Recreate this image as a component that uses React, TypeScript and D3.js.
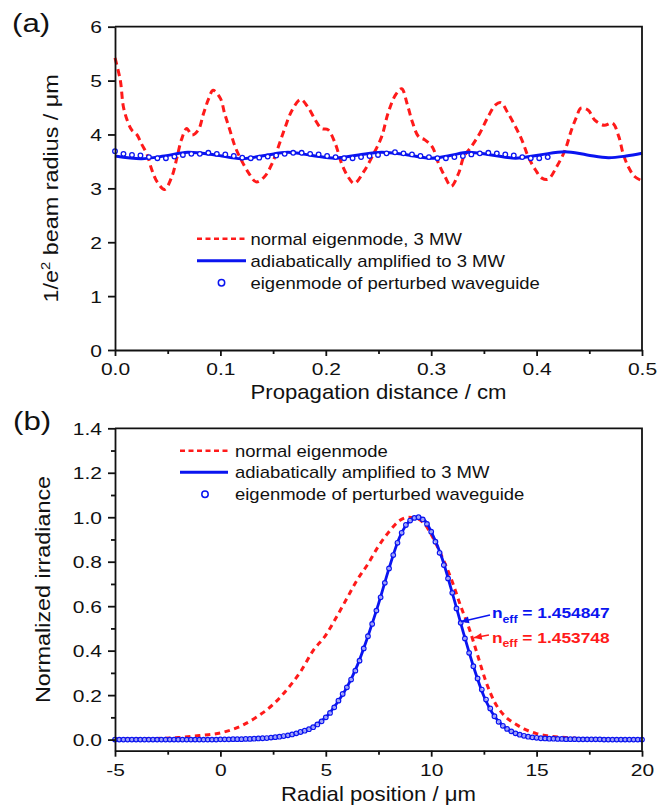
import React, { useEffect, useRef } from 'react'
import * as d3 from 'd3'

// (a) 1/e^2 beam radius vs propagation distance
const distNormal = [0, 0.005, 0.008, 0.012, 0.016, 0.021, 0.025, 0.03, 0.035, 0.04, 0.047, 0.054, 0.059, 0.063, 0.068, 0.073, 0.079, 0.084, 0.089, 0.093, 0.1, 0.104, 0.109, 0.114, 0.12, 0.127, 0.134, 0.142, 0.149, 0.155, 0.161, 0.168, 0.176, 0.183, 0.19, 0.196, 0.202, 0.209, 0.215, 0.221, 0.227, 0.236, 0.244, 0.253, 0.259, 0.266, 0.272, 0.277, 0.282, 0.288, 0.294, 0.301, 0.307, 0.313, 0.319, 0.326, 0.331, 0.338, 0.346, 0.354, 0.361, 0.366, 0.373, 0.38, 0.386, 0.392, 0.399, 0.405, 0.411, 0.419, 0.427, 0.433, 0.438, 0.442, 0.449, 0.455, 0.464, 0.472, 0.478, 0.482, 0.487, 0.493, 0.5]
const radiusNormal = [5.42, 5.01, 4.51, 4.24, 4.08, 3.99, 3.83, 3.65, 3.34, 3.12, 2.98, 3.22, 3.59, 3.9, 4.11, 3.99, 4.08, 4.39, 4.67, 4.82, 4.67, 4.39, 4.08, 3.77, 3.52, 3.28, 3.12, 3.22, 3.46, 3.77, 4.11, 4.45, 4.65, 4.51, 4.27, 4.11, 4.09, 3.83, 3.46, 3.22, 3.09, 3.31, 3.59, 3.96, 4.39, 4.73, 4.85, 4.58, 4.24, 3.96, 3.9, 3.77, 3.46, 3.22, 3.04, 3.28, 3.59, 3.77, 4.02, 4.33, 4.55, 4.59, 4.39, 4.14, 3.9, 3.59, 3.34, 3.19, 3.17, 3.4, 3.71, 4.08, 4.33, 4.49, 4.45, 4.27, 4.17, 4.21, 3.96, 3.65, 3.4, 3.22, 3.14]
const distAdiabatic = [0, 0.025, 0.047, 0.069, 0.095, 0.12, 0.142, 0.164, 0.187, 0.209, 0.231, 0.253, 0.278, 0.3, 0.318, 0.335, 0.357, 0.38, 0.403, 0.427, 0.448, 0.468, 0.485, 0.5]
const radiusAdiabatic = [3.6, 3.55, 3.6, 3.67, 3.62, 3.55, 3.61, 3.67, 3.61, 3.56, 3.62, 3.67, 3.62, 3.56, 3.61, 3.67, 3.62, 3.56, 3.62, 3.68, 3.62, 3.57, 3.6, 3.65]
// perturbed-waveguide eigenmode, sampled every eigenStepA cm from 0
const eigenStepA = 0.00805
const radiusEigen = [3.69, 3.64, 3.62, 3.61, 3.58, 3.56, 3.56, 3.59, 3.62, 3.64, 3.64, 3.66, 3.64, 3.63, 3.6, 3.57, 3.56, 3.57, 3.59, 3.61, 3.64, 3.66, 3.66, 3.64, 3.63, 3.6, 3.58, 3.56, 3.56, 3.58, 3.6, 3.62, 3.65, 3.67, 3.65, 3.63, 3.6, 3.58, 3.56, 3.56, 3.58, 3.6, 3.63, 3.65, 3.66, 3.65, 3.63, 3.61, 3.58, 3.56, 3.56, 3.58]

// (b) normalized irradiance vs radial position
const radialNormal = [-5, -3, -2, -1, 0, 1, 1.7, 2.5, 3.2, 3.8, 4.4, 5, 5.5, 6, 6.5, 7, 7.5, 8, 8.5, 8.9, 9.3, 9.7, 10.1, 10.5, 11, 11.4, 11.8, 12.2, 12.6, 13, 13.5, 14, 14.4, 15, 15.5, 16, 16.5, 17, 18, 20]
const irrNormal = [0.002, 0.005, 0.009, 0.018, 0.03, 0.062, 0.1, 0.158, 0.23, 0.305, 0.4, 0.47, 0.55, 0.635, 0.72, 0.79, 0.87, 0.935, 0.985, 1.0, 0.995, 0.968, 0.905, 0.825, 0.71, 0.6, 0.5, 0.38, 0.26, 0.17, 0.105, 0.07, 0.048, 0.027, 0.017, 0.012, 0.008, 0.005, 0.002, 0]
const radialAdiabatic = [-5, -2, 0, 1, 2, 3, 3.5, 4, 4.5, 5, 5.5, 6, 6.5, 7, 7.5, 8, 8.5, 9, 9.35, 9.7, 10, 10.5, 11, 11.5, 12, 12.5, 13, 13.5, 14, 14.5, 15, 16, 17, 20]
const irrAdiabatic = [0, 0, 0.001, 0.002, 0.006, 0.016, 0.025, 0.04, 0.063, 0.1, 0.16, 0.235, 0.335, 0.465, 0.61, 0.77, 0.91, 0.985, 1.0, 0.985, 0.935, 0.82, 0.66, 0.49, 0.33, 0.195, 0.105, 0.055, 0.028, 0.015, 0.008, 0.003, 0.001, 0]
// perturbed-waveguide eigenmode, sampled every eigenStepB um from -5
const eigenStepB = 0.2
const irrEigen = [
  0, 0, 0, 0, 0, 0, 0, 0, 0, 0, 0, 0, 0, 0, 0, 0, 0, 0, 0, 0, 0, 0, 0, 0, 0,
  0.001, 0.001, 0.001, 0.002, 0.002, 0.002, 0.003, 0.003, 0.004, 0.005, 0.006, 0.007, 0.009, 0.011, 0.013,
  0.016, 0.019, 0.023, 0.028, 0.034, 0.04, 0.047, 0.056, 0.068, 0.082, 0.1, 0.12, 0.145, 0.175, 0.205,
  0.235, 0.27, 0.31, 0.355, 0.41, 0.465, 0.52, 0.58, 0.64, 0.705, 0.77, 0.83, 0.885, 0.93, 0.965,
  0.985, 0.997, 1.0, 0.99, 0.97, 0.935, 0.89, 0.84, 0.785, 0.725, 0.66, 0.59, 0.525, 0.455, 0.39,
  0.33, 0.275, 0.225, 0.18, 0.14, 0.105, 0.08, 0.062, 0.048, 0.037, 0.028, 0.022, 0.017, 0.013, 0.01,
  0.008, 0.006, 0.005, 0.004, 0.004, 0.003, 0.003, 0.002, 0.002, 0.002, 0.001,
  0.001, 0.001, 0.001, 0.001, 0.001, 0, 0, 0, 0, 0, 0, 0, 0, 0, 0
]

const xTicksA = [0, 0.1, 0.2, 0.3, 0.4, 0.5]
const xMinorA = [0.05, 0.15, 0.25, 0.35, 0.45]
const yTicksA = [0, 1, 2, 3, 4, 5, 6]
const xTicksB = [-5, 0, 5, 10, 15, 20]
const xMinorB = [-2.5, 2.5, 7.5, 12.5, 17.5]
const yTicksB = [0, 0.2, 0.4, 0.6, 0.8, 1.0, 1.2, 1.4]
const yMinorB = [0.1, 0.3, 0.5, 0.7, 0.9, 1.1, 1.3]

const legendA = ['normal eigenmode, 3 MW', 'adiabatically amplified to 3 MW', 'eigenmode of perturbed waveguide']
const legendB = ['normal eigenmode', 'adiabatically amplified to 3 MW', 'eigenmode of perturbed waveguide']

const RED = '#ff1a1a'
const BLUE = '#0a14f0'
const FONT = 'Liberation Sans, Arial, sans-serif'

const App = () => {
  const svgRef = useRef(null)

  useEffect(() => {
    const svg = d3.select(svgRef.current)
    svg.selectAll('*').remove()
    svg.attr('width', 667).attr('height', 808)
      .style('position', 'absolute').style('left', 0).style('top', 0)
      .style('background', '#fff')
      .style('font-family', FONT)

    const left = 115, right = 642

    const txt = (g, x, y, s, size, sx, anchor = 'start') => g.append('text')
      .attr('transform', `translate(${x},${y}) scale(${sx},1)`)
      .attr('text-anchor', anchor)
      .attr('font-size', size)
      .attr('fill', '#111')
      .text(s)

    const drawAxes = (g, x, y, xt, xm, yt, ym, fx, fy, top, bottom) => {
      const xa = g.append('g').attr('transform', `translate(0,${bottom})`)
        .call(d3.axisBottom(x).tickValues(xt).tickSize(6).tickSizeOuter(0).tickFormat(fx))
      xa.selectAll('text').attr('y', 25).attr('dy', 0).attr('font-size', 16.8)
        .attr('font-family', FONT).attr('fill', '#111').attr('transform', 'scale(1.25,1)')
      if (xm.length) {
        g.append('g').attr('transform', `translate(0,${bottom})`)
          .call(d3.axisBottom(x).tickValues(xm).tickSize(4).tickFormat(() => ''))
          .call(a => a.select('.domain').remove())
      }
      const ya = g.append('g').attr('transform', `translate(${left},0)`)
        .call(d3.axisLeft(y).tickValues(yt).tickSize(7).tickSizeOuter(0).tickFormat(fy))
      ya.selectAll('text').attr('x', -13 / 1.25).attr('dy', '0.36em').attr('font-size', 16.8)
        .attr('font-family', FONT).attr('fill', '#111').attr('transform', 'scale(1.25,1)')
      if (ym.length) {
        g.append('g').attr('transform', `translate(${left},0)`)
          .call(d3.axisLeft(y).tickValues(ym).tickSize(4).tickFormat(() => ''))
          .call(a => a.select('.domain').remove())
      }
      g.selectAll('.domain, .tick line').attr('stroke', '#111').attr('stroke-width', 1.8)
      // frame top and right
      g.append('path')
        .attr('d', `M${left},${top}H${right}V${bottom}`)
        .attr('fill', 'none').attr('stroke', '#111').attr('stroke-width', 1.8)
    }

    // ---------- panel (a) ----------
    const topA = 26.7, botA = 350
    const xA = d3.scaleLinear().domain([0, 0.5]).range([left, right])
    const yA = d3.scaleLinear().domain([0, 6]).range([botA, topA])
    const gA = svg.append('g')

    const lineA = d3.line().curve(d3.curveCatmullRom.alpha(0.5))
    gA.append('path')
      .attr('d', lineA(distNormal.map((d, i) => [xA(d), yA(radiusNormal[i])])))
      .attr('fill', 'none').attr('stroke', RED).attr('stroke-width', 3)
      .attr('stroke-dasharray', '7,4.5')
    gA.append('path')
      .attr('d', lineA(distAdiabatic.map((d, i) => [xA(d), yA(radiusAdiabatic[i])])))
      .attr('fill', 'none').attr('stroke', BLUE).attr('stroke-width', 3)
    gA.selectAll('circle.eig').data(radiusEigen).join('circle')
      .attr('class', 'eig')
      .attr('cx', (d, i) => xA(i * eigenStepA)).attr('cy', d => yA(d))
      .attr('r', 2.3).attr('fill', '#fff').attr('stroke', BLUE).attr('stroke-width', 1.3)

    drawAxes(gA, xA, yA, xTicksA, xMinorA, yTicksA, [], d3.format('.1f'), d => String(d), topA, botA)

    // legend (a)
    const legA = gA.append('g')
    const rowsA = [238.7, 260.7, 282.7]
    legA.append('line').attr('x1', 197).attr('x2', 246).attr('y1', rowsA[0]).attr('y2', rowsA[0])
      .attr('stroke', RED).attr('stroke-width', 2.6).attr('stroke-dasharray', '5,3.5')
    legA.append('line').attr('x1', 197).attr('x2', 246).attr('y1', rowsA[1]).attr('y2', rowsA[1])
      .attr('stroke', BLUE).attr('stroke-width', 3)
    legA.append('circle').attr('cx', 221.5).attr('cy', rowsA[2]).attr('r', 3.2)
      .attr('fill', '#fff').attr('stroke', BLUE).attr('stroke-width', 1.5)
    legendA.forEach((s, i) => txt(legA, 250.5, rowsA[i] + 5.8, s, 16.2, 1.14))

    txt(svg, 12, 32, '(a)', 26, 1.2)

    // x title (a)
    txt(svg, (left + right) / 2, 399, 'Propagation distance / cm', 20.5, 1.08, 'middle')
    // y title (a)
    const yt = svg.append('text')
      .attr('transform', `translate(58,${(topA + botA) / 2}) rotate(-90) scale(1.14,1)`)
      .attr('text-anchor', 'middle').attr('font-size', 20.5).attr('fill', '#111')
    yt.append('tspan').text('1/e')
    yt.append('tspan').attr('font-size', 13).attr('dy', -8).text('2')
    yt.append('tspan').attr('dy', 8).text(' beam radius / μm')

    // ---------- panel (b) ----------
    const topB = 428.3, botB = 750.7
    const xB = d3.scaleLinear().domain([-5, 20]).range([left, right])
    const yB = d3.scaleLinear().domain([-0.05, 1.4]).range([botB, topB])
    const gB = svg.append('g')
    const lineB = d3.line().curve(d3.curveMonotoneX)

    gB.append('path')
      .attr('d', lineB(radialNormal.map((d, i) => [xB(d), yB(irrNormal[i])])))
      .attr('fill', 'none').attr('stroke', RED).attr('stroke-width', 3)
      .attr('stroke-dasharray', '5.5,4.5')
    gB.append('path')
      .attr('d', lineB(radialAdiabatic.map((d, i) => [xB(d), yB(irrAdiabatic[i])])))
      .attr('fill', 'none').attr('stroke', BLUE).attr('stroke-width', 2.8)
    gB.selectAll('circle.eig').data(irrEigen).join('circle')
      .attr('class', 'eig')
      .attr('cx', (d, i) => xB(-5 + i * eigenStepB)).attr('cy', d => yB(d))
      .attr('r', 2.3).attr('fill', '#fff').attr('fill-opacity', 0.6).attr('stroke', BLUE).attr('stroke-width', 1.2)

    drawAxes(gB, xB, yB, xTicksB, xMinorB, yTicksB, yMinorB, d => String(d), d3.format('.1f'), topB, botB)

    // legend (b)
    const legB = gB.append('g')
    const rowsB = [450.7, 472.3, 494.3]
    legB.append('line').attr('x1', 180).attr('x2', 228).attr('y1', rowsB[0]).attr('y2', rowsB[0])
      .attr('stroke', RED).attr('stroke-width', 2.6).attr('stroke-dasharray', '5,3.5')
    legB.append('line').attr('x1', 180).attr('x2', 228).attr('y1', rowsB[1]).attr('y2', rowsB[1])
      .attr('stroke', BLUE).attr('stroke-width', 3)
    legB.append('circle').attr('cx', 205).attr('cy', rowsB[2]).attr('r', 3.2)
      .attr('fill', '#fff').attr('stroke', BLUE).attr('stroke-width', 1.5)
    legendB.forEach((s, i) => txt(legB, 235, rowsB[i] + 5.8, s, 16.2, 1.14))

    // n_eff annotations
    const ann = [
      { label: '1.454847', color: BLUE, tip: [11.41, 0.53], tail: [12.79, 0.56], at: [12.88, 0.545] },
      { label: '1.453748', color: RED, tip: [12.02, 0.458], tail: [12.74, 0.47], at: [12.88, 0.435] }
    ]
    ann.forEach(a => {
      const x1 = xB(a.tail[0]), y1 = yB(a.tail[1]), x2 = xB(a.tip[0]), y2 = yB(a.tip[1])
      gB.append('line').attr('x1', x1).attr('y1', y1).attr('x2', x2).attr('y2', y2)
        .attr('stroke', a.color).attr('stroke-width', 1.6)
      const ang = Math.atan2(y2 - y1, x2 - x1)
      const L = 8, W = 3.5
      const bx = x2 - L * Math.cos(ang), by = y2 - L * Math.sin(ang)
      gB.append('path')
        .attr('d', `M${x2},${y2}L${bx - W * Math.sin(ang)},${by + W * Math.cos(ang)}L${bx + W * Math.sin(ang)},${by - W * Math.cos(ang)}Z`)
        .attr('fill', a.color)
      const t = gB.append('text')
        .attr('transform', `translate(${xB(a.at[0])},${yB(a.at[1])}) scale(1.12,1)`)
        .attr('font-size', 15.5).attr('font-weight', 'bold').attr('fill', a.color)
      t.append('tspan').text('n')
      t.append('tspan').attr('font-size', 11).attr('dy', 4.5).text('eff')
      t.append('tspan').attr('dy', -4.5).text(' = ' + a.label)
    })

    txt(svg, 13, 430, '(b)', 26, 1.2)
    txt(svg, (left + right) / 2, 801, 'Radial position / μm', 20.5, 1.08, 'middle')
    svg.append('text')
      .attr('transform', `translate(50,${(topB + botB) / 2}) rotate(-90) scale(1.14,1)`)
      .attr('text-anchor', 'middle').attr('font-size', 20.5).attr('fill', '#111')
      .text('Normalized irradiance')
  }, [])

  return (
    <div>
      <svg ref={svgRef}></svg>
    </div>
  )
}

export default App
